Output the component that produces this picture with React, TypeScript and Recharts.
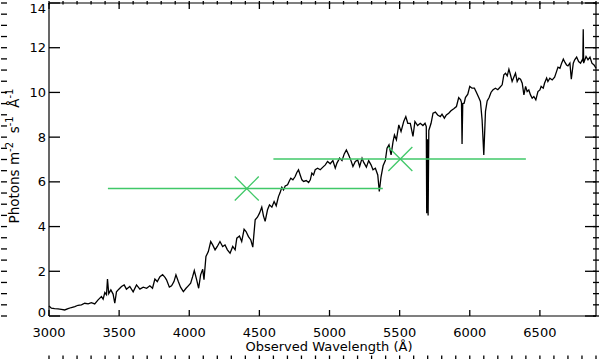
import React from 'react';
import { ComposedChart, Line, XAxis, YAxis } from 'recharts';

// spectrum (Angstrom, photons m^-2 s^-1 A^-1)
const WAVELENGTH = [
  3000, 3017, 3040, 3064, 3088, 3112, 3136, 3160, 3184, 3207,
  3231, 3255, 3279, 3302, 3326, 3350, 3374, 3386, 3398, 3410,
  3417, 3426, 3441, 3457, 3469, 3481, 3498, 3517, 3536, 3552,
  3576, 3600, 3624, 3648, 3672, 3696, 3719, 3738, 3755, 3772,
  3791, 3810, 3827, 3838, 3858, 3874, 3891, 3905, 3922, 3938,
  3958, 3977, 3993, 4010, 4024, 4036, 4053, 4067, 4081, 4096,
  4105, 4119, 4136, 4153, 4167, 4184, 4200, 4219, 4238, 4255,
  4272, 4291, 4310, 4327, 4339, 4358, 4374, 4391, 4405, 4422,
  4439, 4453, 4470, 4486, 4501, 4517, 4529, 4541, 4558, 4572,
  4589, 4605, 4620, 4636, 4648, 4660, 4672, 4684, 4701, 4715,
  4724, 4739, 4755, 4767, 4779, 4791, 4803, 4815, 4834, 4851,
  4863, 4874, 4886, 4898, 4915, 4934, 4953, 4970, 4986, 5005,
  5024, 5041, 5053, 5072, 5089, 5105, 5120, 5136, 5153, 5167,
  5184, 5201, 5215, 5232, 5244, 5263, 5279, 5296, 5310, 5327,
  5344, 5355, 5367, 5382, 5398, 5410, 5424, 5439, 5453, 5463,
  5477, 5494, 5510, 5529, 5544, 5558, 5576, 5595, 5609, 5628,
  5647, 5666, 5681, 5690, 5693, 5698, 5703, 5708, 5724, 5738,
  5755, 5771, 5790, 5802, 5819, 5833, 5850, 5866, 5886, 5905,
  5921, 5935, 5941, 5945, 5950, 5960, 5969, 5986, 6000, 6016,
  6033, 6047, 6064, 6076, 6088, 6100, 6112, 6124, 6138, 6152,
  6166, 6183, 6200, 6214, 6231, 6243, 6255, 6267, 6279, 6290,
  6302, 6314, 6326, 6338, 6350, 6362, 6374, 6386, 6398, 6409,
  6421, 6433, 6445, 6457, 6471, 6486, 6500, 6509, 6524, 6533,
  6548, 6557, 6571, 6588, 6605, 6619, 6629, 6643, 6655, 6667,
  6679, 6690, 6700, 6714, 6724, 6738, 6748, 6762, 6776, 6790,
  6802, 6806, 6809, 6812, 6829, 6843, 6857, 6871, 6886, 6900,
];

const FLUX = [
  0.45, 0.35, 0.33, 0.32, 0.30, 0.27, 0.33, 0.38, 0.42, 0.48,
  0.50, 0.57, 0.54, 0.60, 0.54, 0.72, 0.87, 0.75, 1.05, 0.95,
  1.65, 1.00, 1.17, 0.98, 0.57, 1.08, 1.20, 1.32, 1.39, 1.20,
  1.32, 1.08, 1.39, 1.20, 1.29, 1.24, 1.35, 1.24, 1.65, 1.54,
  1.76, 1.85, 1.73, 1.62, 1.29, 1.35, 1.54, 1.84, 1.54, 1.29,
  1.09, 1.24, 1.35, 1.47, 1.76, 2.03, 1.62, 1.24, 1.84, 2.09,
  1.62, 2.66, 2.88, 3.33, 3.18, 2.96, 3.11, 3.33, 3.11, 3.18,
  2.96, 2.81, 3.11, 2.96, 3.48, 3.58, 3.33, 3.88, 3.78, 3.55,
  3.40, 3.08, 4.30, 4.42, 4.60, 4.87, 4.48, 4.23, 4.75, 4.97,
  4.87, 5.12, 4.93, 5.34, 5.52, 5.76, 5.64, 5.82, 5.87, 6.06,
  6.16, 6.09, 6.24, 6.42, 6.54, 6.31, 6.09, 6.02, 6.06, 5.97,
  6.09, 6.39, 6.31, 6.54, 6.61, 6.54, 6.66, 6.76, 6.91, 6.81,
  6.95, 6.61, 6.84, 7.06, 6.95, 7.25, 7.43, 7.21, 6.95, 6.69,
  6.91, 6.98, 6.69, 7.06, 6.87, 6.66, 6.95, 6.76, 6.54, 6.61,
  6.31, 5.57, 6.21, 6.72, 6.95, 7.51, 7.66, 7.21, 7.80, 8.10,
  7.88, 8.55, 8.25, 8.70, 8.92, 8.62, 8.62, 8.03, 8.70, 8.52,
  8.62, 8.52, 8.62, 8.47, 4.60, 7.90, 4.50, 8.30, 8.62, 9.07,
  9.12, 8.99, 8.92, 9.03, 8.85, 8.99, 9.07, 9.18, 9.27, 9.37,
  9.77, 9.67, 9.55, 7.69, 9.50, 9.52, 9.77, 9.92, 10.27, 10.19,
  10.19, 10.01, 9.77, 9.60, 8.77, 7.20, 9.15, 9.62, 9.77, 10.01,
  10.12, 10.19, 10.12, 10.22, 10.34, 10.79, 10.86, 10.74, 11.04, 10.79,
  10.49, 10.68, 10.86, 10.49, 10.64, 10.59, 10.41, 9.89, 10.27, 10.04,
  10.11, 9.89, 9.74, 9.82, 9.67, 10.04, 10.11, 10.27, 10.19, 10.41,
  10.64, 10.49, 10.64, 10.56, 10.68, 10.94, 11.13, 11.08, 11.31, 11.49,
  11.34, 11.23, 11.19, 11.31, 10.59, 11.31, 11.46, 11.58, 11.38, 11.31,
  11.46, 11.40, 12.83, 11.31, 11.61, 11.46, 11.58, 11.31, 11.23, 11.08,
];

// broadband photometry points with their filter widths
const BAND_CENTER = [4410, 5505];
const BAND_LOW = [3420, 4600];
const BAND_HIGH = [5380, 6400];
const BAND_FLUX = [5.7, 7.02];

const X_MAJOR = [3000, 3500, 4000, 4500, 5000, 5500, 6000, 6500];
const X_MINOR = Array.from({ length: 40 }, (_, i) => 3000 + i * 100);
const Y_MAJOR = [0, 2, 4, 6, 8, 10, 12, 14];
const Y_MINOR = Array.from({ length: 29 }, (_, i) => i * 0.5);

const X_DOMAIN = [3000, 6900];
const Y_DOMAIN = [0, 14];

const GREEN = '#40c868';
const FONT = 'DejaVu Sans';
const FRAME = { stroke: '#000', strokeWidth: 1.2 };
const TICK = { stroke: '#000', strokeWidth: 1.3 };

const spectrum = WAVELENGTH.map((w, i) => ({ wave: w, flux: FLUX[i] }));
const bands = BAND_CENTER.map((w, i) => [
  { wave: BAND_LOW[i], flux: BAND_FLUX[i] },
  { wave: w, flux: BAND_FLUX[i], center: true },
  { wave: BAND_HIGH[i], flux: BAND_FLUX[i] },
]);

const BottomLabel = ({ x, y, payload }: any) => (
  <text x={x} y={y} textAnchor="middle" fontFamily={FONT} fontSize={13} fill="#000">
    {payload.value}
  </text>
);

const LeftLabel = ({ x, y, payload }: any) => {
  // IDL keeps the end labels inside the frame
  const ly = Math.min(Math.max(y, 8), 312);
  return (
    <text x={x} y={ly + 4.5} textAnchor="end" fontFamily={FONT} fontSize={13} fill="#000">
      {payload.value}
    </text>
  );
};

const NoLabel = () => null;

const XTitle = ({ viewBox }: any) => (
  <text x={329} y={viewBox.y + 35} textAnchor="middle" fontFamily={FONT} fontSize={13} fill="#000">
    Observed Wavelength (Å)
  </text>
);

const YTitle = () => {
  const cx = 19;
  const cy = 156;
  return (
    <text
      x={cx}
      y={cy}
      transform={`rotate(-90, ${cx}, ${cy})`}
      textAnchor="middle"
      fontFamily={FONT}
      fontSize={13.5}
      fill="#000"
    >
      Photons{'\u00a0'}m<tspan dy={-6} fontSize={10}>-2</tspan>
      <tspan dy={6}>{'\u00a0\u00a0'}s</tspan><tspan dy={-6} fontSize={10}>-1</tspan>
      <tspan dy={6}>{'\u00a0\u00a0'}Å</tspan><tspan dy={-6} fontSize={10}>-1</tspan>
    </text>
  );
};

// X marker only at the band centre
const CrossDot = ({ cx, cy, payload }: any) => {
  if (!payload || !payload.center) return <g />;
  return (
    <g stroke={GREEN} strokeWidth={1.3}>
      <line x1={cx - 12} y1={cy - 12} x2={cx + 12} y2={cy + 12} />
      <line x1={cx - 12} y1={cy + 12} x2={cx + 12} y2={cy - 12} />
    </g>
  );
};

export default function App() {
  // string ids everywhere so the axes stack in the order written (minor ticks next to the frame)
  return (
    <div style={{ position: 'absolute', left: 0, top: 0, background: '#fff' }}>
      <ComposedChart width={600} height={360} margin={{ top: 0, right: 0, bottom: 0, left: 0 }}>
        {/* bottom */}
        <XAxis xAxisId="xminor" type="number" dataKey="wave" domain={X_DOMAIN} ticks={X_MINOR} interval={0}
          height={1} tickSize={-3.5} tick={<NoLabel />} axisLine={false} tickLine={TICK} />
        <XAxis xAxisId="xmain" type="number" dataKey="wave" domain={X_DOMAIN} ticks={X_MAJOR} interval={0}
          height={43} tickSize={-6} tickMargin={27} tick={<BottomLabel />} axisLine={FRAME} tickLine={TICK}
          label={<XTitle />} />
        {/* top frame */}
        <XAxis xAxisId="xtopminor" orientation="top" type="number" dataKey="wave" domain={X_DOMAIN} ticks={X_MINOR}
          interval={0} height={1} tickSize={-3.5} tick={<NoLabel />} axisLine={false} tickLine={TICK} />
        <XAxis xAxisId="xtop" orientation="top" type="number" dataKey="wave" domain={X_DOMAIN} ticks={X_MAJOR}
          interval={0} height={2} tickSize={-6} tick={<NoLabel />} axisLine={FRAME} tickLine={TICK} />

        {/* left */}
        <YAxis yAxisId="yminor" type="number" domain={Y_DOMAIN} ticks={Y_MINOR} interval={0}
          width={1} tickSize={-6} tick={<NoLabel />} axisLine={false} tickLine={TICK} />
        <YAxis yAxisId="ymain" type="number" domain={Y_DOMAIN} ticks={Y_MAJOR} interval={0}
          width={48} tickSize={-11} tickMargin={14} tick={<LeftLabel />} axisLine={FRAME} tickLine={TICK}
          label={<YTitle />} />
        {/* right frame */}
        <YAxis yAxisId="yrightminor" orientation="right" type="number" domain={Y_DOMAIN} ticks={Y_MINOR}
          interval={0} width={1} tickSize={-6} tick={<NoLabel />} axisLine={false} tickLine={TICK} />
        <YAxis yAxisId="yright" orientation="right" type="number" domain={Y_DOMAIN} ticks={Y_MAJOR} interval={0}
          width={3} tickSize={-11} tick={<NoLabel />} axisLine={FRAME} tickLine={TICK} />

        {/* hidden copies bind the frame axes to data */}
        <Line xAxisId="xminor" yAxisId="yminor" data={spectrum} dataKey="flux" stroke="none"
          dot={false} activeDot={false} isAnimationActive={false} />
        <Line xAxisId="xtopminor" yAxisId="yrightminor" data={spectrum} dataKey="flux" stroke="none"
          dot={false} activeDot={false} isAnimationActive={false} />
        <Line xAxisId="xtop" yAxisId="yright" data={spectrum} dataKey="flux" stroke="none"
          dot={false} activeDot={false} isAnimationActive={false} />

        <Line
          xAxisId="xmain"
          yAxisId="ymain"
          data={spectrum}
          dataKey="flux"
          type="linear"
          stroke="#000"
          strokeWidth={1.3}
          dot={false}
          activeDot={false}
          isAnimationActive={false}
        />
        {bands.map((band, i) => (
          <Line
            key={i}
            xAxisId="xmain"
            yAxisId="ymain"
            data={band}
            dataKey="flux"
            type="linear"
            stroke={GREEN}
            strokeWidth={1.5}
            dot={<CrossDot />}
            activeDot={false}
            isAnimationActive={false}
          />
        ))}
      </ComposedChart>
    </div>
  );
}
